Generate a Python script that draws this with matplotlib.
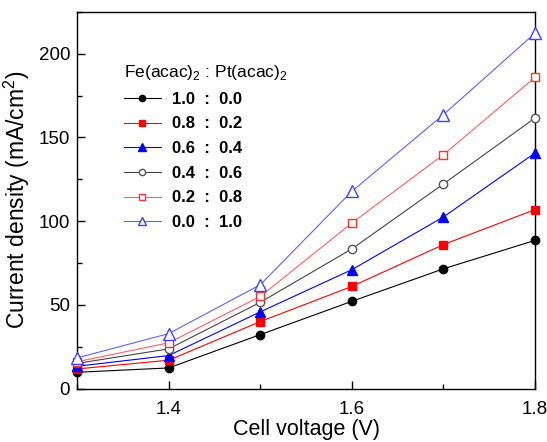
import matplotlib
matplotlib.use("Agg")
import matplotlib.pyplot as plt
from matplotlib.ticker import MultipleLocator

plt.rcParams['font.family'] = ['Liberation Sans', 'DejaVu Sans']
plt.rcParams['mathtext.fontset'] = 'custom'
plt.rcParams['mathtext.rm'] = 'Liberation Sans'

voltage = [1.3, 1.4, 1.5, 1.6, 1.7, 1.8]
ratios = ["1.0  :  0.0", "0.8  :  0.2", "0.6  :  0.4", "0.4  :  0.6", "0.2  :  0.8", "0.0  :  1.0"]
fe10_pt00 = [9.7, 12.3, 32.2, 52.1, 71.5, 88.5]
fe08_pt02 = [11.7, 16.9, 40.0, 61.0, 86.0, 106.9]
fe06_pt04 = [13.3, 19.7, 45.8, 71.0, 102.5, 140.7]
fe04_pt06 = [15.0, 23.7, 51.5, 83.4, 122.2, 161.6]
fe02_pt08 = [16.0, 27.3, 55.0, 98.9, 139.7, 185.9]
fe00_pt10 = [18.3, 32.8, 62.0, 117.8, 163.6, 212.3]

series = [fe10_pt00, fe08_pt02, fe06_pt04, fe04_pt06, fe02_pt08, fe00_pt10]
styles = [
    dict(color='black', marker='o', mfc='black', mec='black', ms=6),
    dict(color='red', marker='s', mfc='red', mec='red', ms=5.5),
    dict(color='blue', marker='^', mfc='blue', mec='blue', ms=7),
    dict(color='#444444', marker='o', mfc='white', mec='#555555', ms=6),
    dict(color='#ff6060', marker='s', mfc='white', mec='#ff3030', ms=6),
    dict(color='#6060ff', marker='^', mfc='white', mec='#4040ff', ms=8),
]

fig = plt.figure(figsize=(5.47, 4.42), dpi=100)
ax = fig.add_axes([0.141, 0.121, 0.837, 0.852])

for vals, lab, st in zip(series, ratios, styles):
    ax.plot(voltage, vals, lw=0.8, label=lab, mew=1.0, clip_on=False, zorder=3, **st)

ax.set_xlim(1.3, 1.8)
ax.set_ylim(0, 225)
ax.xaxis.set_major_locator(MultipleLocator(0.2))
ax.xaxis.set_minor_locator(MultipleLocator(0.1))
ax.yaxis.set_major_locator(MultipleLocator(50))
ax.yaxis.set_minor_locator(MultipleLocator(25))
ax.set_xticks([1.4, 1.6, 1.8])
ax.set_xticklabels(['1.4', '1.6', '1.8'])
ax.tick_params(which='major', direction='in', length=6, width=1, labelsize=13.5)
ax.tick_params(which='minor', direction='in', length=3.5, width=1)
ax.tick_params(axis='x', which='major', pad=9)
ax.tick_params(axis='y', which='major', pad=5)
for s in ax.spines.values():
    s.set_linewidth(1.0)

ax.set_xlabel('Cell voltage (V)', fontsize=15.5, labelpad=1)
ax.set_ylabel('Current density (mA/cm$^2$)', fontsize=16.5, labelpad=5)

leg = ax.legend(loc='upper left', bbox_to_anchor=(0.077, 0.895), frameon=False,
                title='Fe(acac)$_2$ : Pt(acac)$_2$', title_fontsize=12.5,
                prop={'size': 12, 'weight': 'bold'}, handlelength=2.2,
                handletextpad=0.65, labelspacing=0.58, borderpad=0.2,
                markerscale=0.75)
leg._legend_box.align = 'left'

fig.savefig('out.png', dpi=100)
